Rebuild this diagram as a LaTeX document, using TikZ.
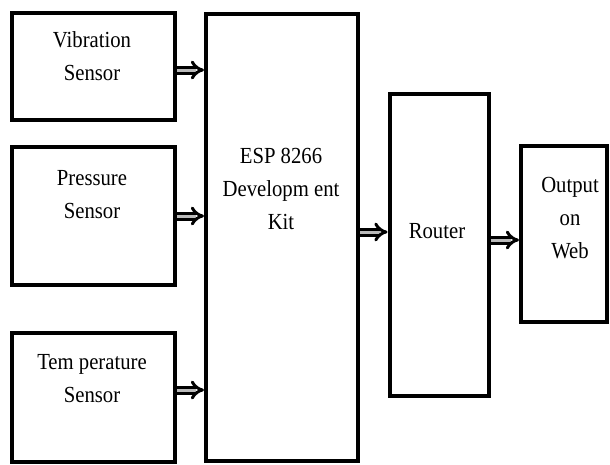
\documentclass[tikz,border=0pt]{standalone}
\usepackage{fontspec}
\setmainfont{Liberation Serif}[FakeStretch=0.9]
\usetikzlibrary{arrows.meta}
\begin{document}
\begin{tikzpicture}[x=1pt,y=-1pt,
  box/.style={draw=black, line width=4pt, minimum width=#1, inner sep=0pt},
  txt/.style={anchor=north, inner sep=0pt, align=center, font=\fontsize{23}{33}\selectfont},
  arr/.style={draw=black, line width=3pt, double=gray!55, double distance=3pt, -{Implies[scale=1.3]}}]
\useasboundingbox (0,0) rectangle (610,464);
% boxes
\node[box=163, minimum height=107] (vib) at (93.5,66.5) {};
\node[box=163, minimum height=138] (pres) at (93.5,216) {};
\node[box=163, minimum height=129] (temp) at (93.5,397.5) {};
\node[box=152, minimum height=447] (esp) at (282,237.5) {};
\node[box=99, minimum height=302] (rout) at (439,245) {};
\node[box=86, minimum height=176] (out) at (564,234) {};
% texts
\node[txt] (tvib) at (92,31.5) {Vibration\\Sensor};
\node[txt] (tpres) at (92,170.5) {Pressure\\Sensor};
\node[txt] (ttemp) at (92,354.5) {Tem perature\\Sensor};
\node[txt] (tesp) at (281,147.5) {ESP 8266\\Developm ent\\Kit};
\node[txt] (trout) at (437,223.5) {Router};
\node[txt] (tout) at (570,177.5) {Output\\on\\Web};
% arrows
\draw[arr] (vib.east |- 0,70) -- (esp.west |- 0,70);
\draw[arr] (pres.east |- 0,216) -- (esp.west |- 0,216);
\draw[arr] (temp.east |- 0,390) -- (esp.west |- 0,390);
\draw[arr] (esp.east |- 0,232) -- (rout.west |- 0,232);
\draw[arr] (rout.east |- 0,240) -- (out.west |- 0,240);
\end{tikzpicture}
\end{document}
